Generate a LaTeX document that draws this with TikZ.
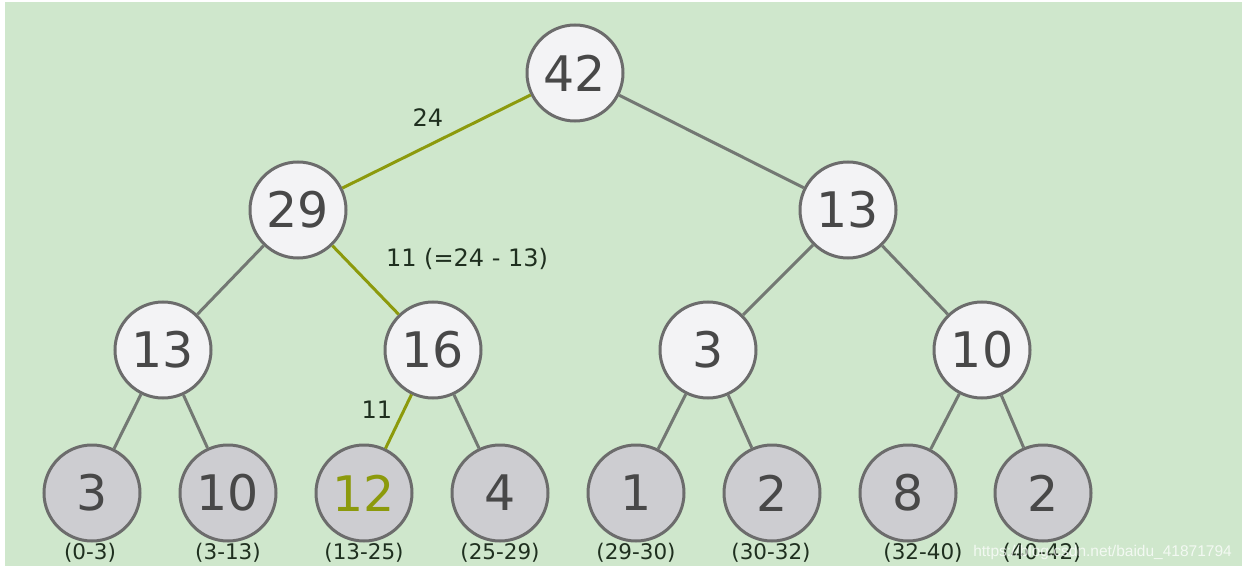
\documentclass[tikz,border=0pt]{standalone}
\usepackage{fontspec}
\setmainfont{DejaVu Sans}
\newfontfamily\wmfont{Liberation Sans}
\definecolor{bggreen}{HTML}{CFE7CC}
\definecolor{innerfill}{HTML}{F3F3F5}
\definecolor{leaffill}{HTML}{CDCDD1}
\definecolor{ringgray}{HTML}{6C6C6C}
\definecolor{edgegray}{HTML}{737873}
\definecolor{olive}{HTML}{8C9A0C}
\definecolor{numgray}{HTML}{484848}
\definecolor{labdark}{HTML}{1F2F1F}
\tikzset{
  inner/.style={circle, draw=ringgray, fill=innerfill, line width=3pt, minimum size=96pt, inner sep=0pt, text=numgray, font=\fontsize{49}{49}\selectfont},
  leaf/.style={inner, fill=leaffill},
  tedge/.style={draw=edgegray, line width=3pt},
  hedge/.style={draw=olive, line width=3pt},
  elabel/.style={text=labdark, font=\fontsize{24}{24}\selectfont, inner sep=0pt},
  rlabel/.style={text=labdark, font=\fontsize{21.5}{21.5}\selectfont, inner sep=0pt},
}
\begin{document}
\begin{tikzpicture}[x=1pt,y=-1pt]
\useasboundingbox (0,0) rectangle (1242,572);
\fill[white] (0,0) rectangle (1242,572);
\fill[bggreen] (5,2) rectangle (1242,566);
% nodes
\node[inner] (r) at (575,73) {42};
\node[inner] (a) at (298,210) {29};
\node[inner] (b) at (848,210) {13};
\node[inner] (c) at (163,350) {13};
\node[inner] (d) at (433,350) {16};
\node[inner] (e) at (708,350) {3};
\node[inner] (f) at (982,350) {10};
\node[leaf] (l1) at (92,493) {3};
\node[leaf] (l2) at (228,493) {10};
\node[leaf, text=olive] (l3) at (364,493) {12};
\node[leaf] (l4) at (500,493) {4};
\node[leaf] (l5) at (636,493) {1};
\node[leaf] (l6) at (772,493) {2};
\node[leaf] (l7) at (908,493) {8};
\node[leaf] (l8) at (1043,493) {2};
% edges
\path[hedge] (r) -- (a);
\path[tedge] (r) -- (b);
\path[tedge] (a) -- (c);
\path[hedge] (a) -- (d);
\path[tedge] (b) -- (e);
\path[tedge] (b) -- (f);
\path[tedge] (c) -- (l1);
\path[tedge] (c) -- (l2);
\path[hedge] (d) -- (l3);
\path[tedge] (d) -- (l4);
\path[tedge] (e) -- (l5);
\path[tedge] (e) -- (l6);
\path[tedge] (f) -- (l7);
\path[tedge] (f) -- (l8);
% edge labels
\node[elabel] (t24) at (428,118) {24};
\node[elabel] (t11a) at (467,259) {11 (=24 - 13)};
\node[elabel] (t11b) at (377,410) {11};
% range labels
\node[rlabel] (g1) at (90,553) {(0-3)};
\node[rlabel] (g2) at (228,553) {(3-13)};
\node[rlabel] (g3) at (364,553) {(13-25)};
\node[rlabel] (g4) at (500,553) {(25-29)};
\node[rlabel] (g5) at (636,553) {(29-30)};
\node[rlabel] (g6) at (771,553) {(30-32)};
\node[rlabel] (g7) at (923,553) {(32-40)};
\node[rlabel] (g8) at (1042,553) {(40-42)};
% watermark
\node[text=white, opacity=0.75, font=\wmfont\fontsize{15.5}{15.5}\selectfont, inner sep=0pt, anchor=east] (wm) at (1232,552) {https://blog.csdn.net/baidu\_41871794};
\end{tikzpicture}
\end{document}
